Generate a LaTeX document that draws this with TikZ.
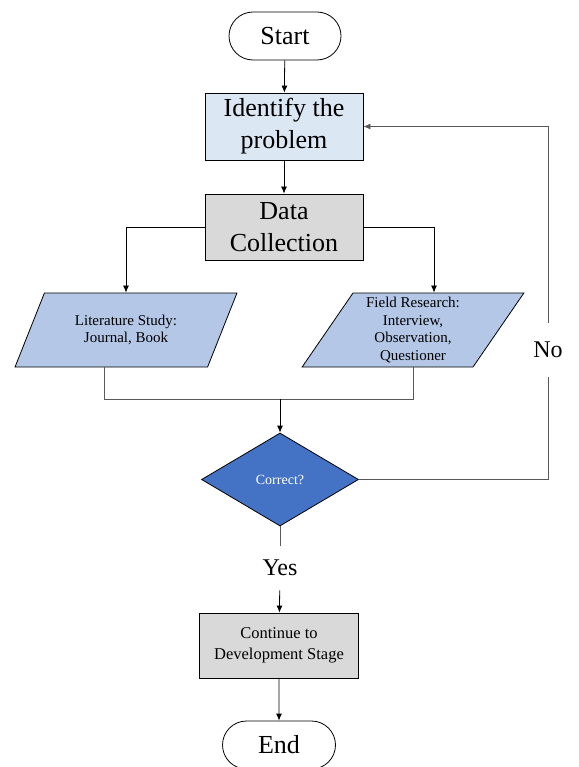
\documentclass[tikz,border=0pt]{standalone}
\usepackage{fontspec}
\setmainfont{Liberation Serif}
\usetikzlibrary{shapes, shapes.geometric, shapes.misc, arrows.meta, positioning}

\begin{document}
\begin{tikzpicture}[x=1pt, y=-1pt, line width=0.8pt,
    terminal/.style={draw, rounded rectangle, minimum width=112, minimum height=48, inner sep=0pt, font=\fontsize{26}{30}\selectfont},
    process/.style={draw, minimum width=158, minimum height=66, inner sep=0pt, align=center},
    inout/.style={draw, trapezium, trapezium left angle=58.7, trapezium right angle=121.3, trapezium stretches=true, minimum width=222, minimum height=74, inner sep=0pt, align=center, fill=io, font=\fontsize{15}{17.5}\selectfont},
    decision/.style={draw, diamond, minimum width=157, minimum height=93, inner sep=0pt, fill=dec, text=white, font=\fontsize{14}{16}\selectfont},
    label/.style={inner sep=0pt, font=\fontsize{24}{28}\selectfont},
    arr/.style={-{Latex[length=7pt, width=6pt]}},
    thin line/.style={draw=black!65}]
    \definecolor{idf}{HTML}{DCE7F4}
    \definecolor{gry}{HTML}{D9D9D9}
    \definecolor{io}{HTML}{B4C7E7}
    \definecolor{dec}{HTML}{4472C4}
    \useasboundingbox (0,0) rectangle (578,767);
    \node[terminal] (start) at (285,36) {Start};
    \node[process, fill=idf, minimum height=67, font=\fontsize{26}{32}\selectfont] (identify) at (284,126.5) {Identify the\\problem};
    \node[process, fill=gry, font=\fontsize{26}{32}\selectfont] (data) at (284,227) {Data\\Collection};
    \node[inout] (lit) at (126,330) {Literature Study:\\Journal, Book};
    \node[inout] (field) at (413,330) {Field Research:\\Interview,\\Observation,\\Questioner};
    \coordinate (join) at (280,399);
    \node[decision] (correct) at (280,479.5) {Correct?};
    \node[label, minimum height=44] (yes) at (280,568) {Yes};
    \node[process, fill=gry, minimum width=159, minimum height=65, font=\fontsize{16.5}{21}\selectfont] (cont) at (279,645.5) {Continue to\\Development Stage};
    \node[terminal, minimum width=113] (end) at (279,745) {End};
    \node[label, minimum height=53] (no) at (548,350) {No};
    \draw[arr] (start) -- (identify);
    \draw[arr] (identify) -- (data);
    \draw[arr] (data.west) -| (lit.north);
    \draw[arr] (data.east) -| ([xshift=21pt]field.north);
    \draw[thin line] ([xshift=-22pt]lit.south) |- (join);
    \draw[thin line] (field.south) |- (join);
    \draw[arr] (join) -- (correct.north);
    \draw[thin line] (correct.south) -- (yes);
    \draw[arr] (yes) -- (cont);
    \draw[arr] (cont) -- (end);
    \draw[thin line] (correct.east) -| (no);
    \draw[thin line, arr] (no) |- (identify.east);
\end{tikzpicture}
\end{document}
